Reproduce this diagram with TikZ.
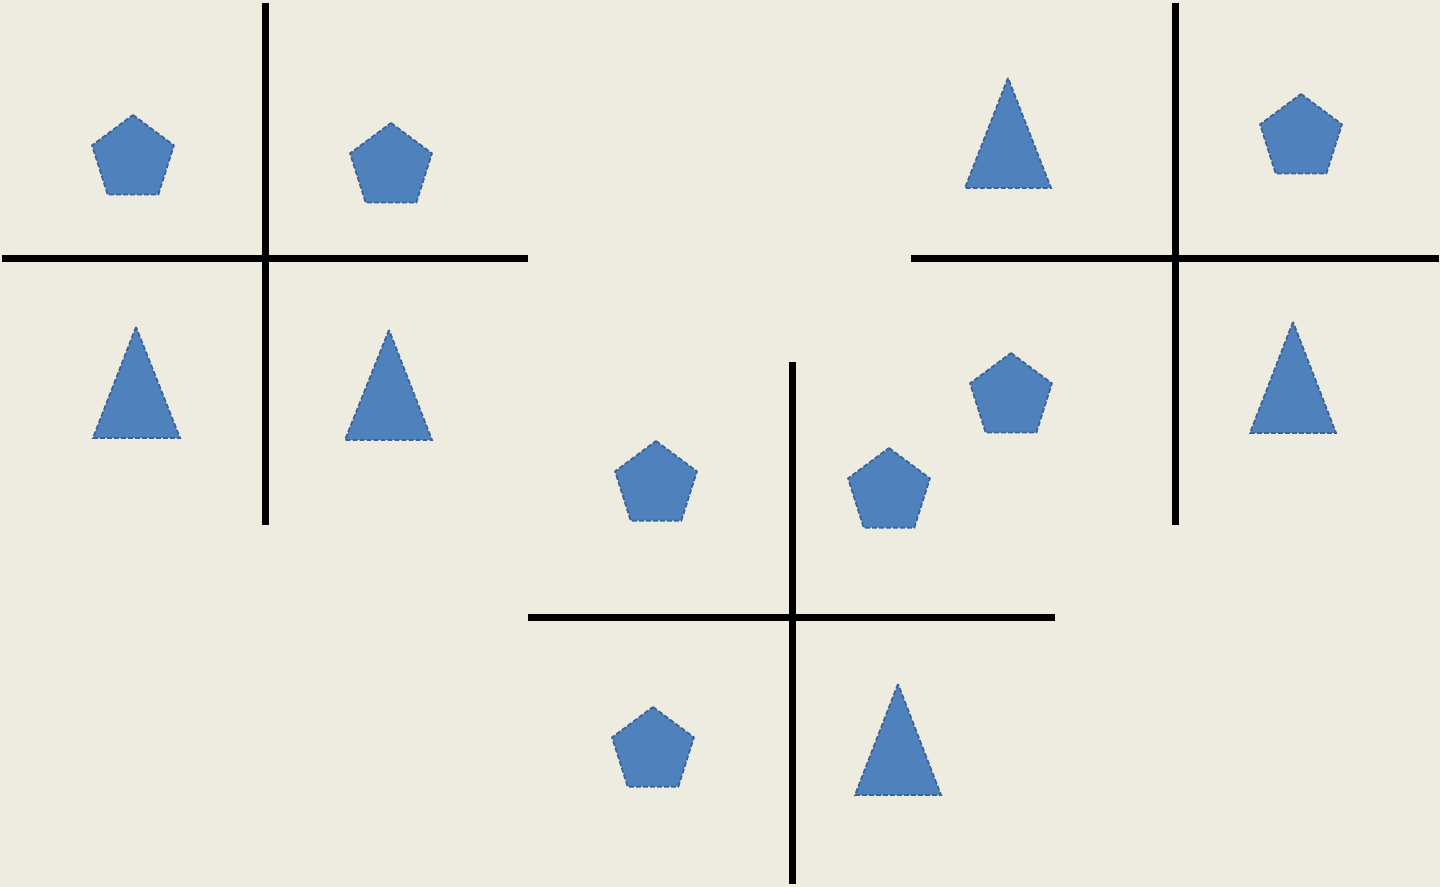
\documentclass[tikz,border=0pt]{standalone}
\definecolor{bg}{HTML}{EEEBE0}
\definecolor{shpfill}{HTML}{4F81BD}
\definecolor{shpline}{HTML}{3A6396}
\newcommand\mypent[2]{%
  \draw[shp] (#1,#2-44) -- (#1+40.9,#2-13.6) -- (#1+25.3,#2+35.6)
    -- (#1-25.3,#2+35.6) -- (#1-40.9,#2-13.6) -- cycle;}
\begin{document}
\begin{tikzpicture}[x=0.5pt,y=-0.5pt,
  shp/.style={fill=shpfill,draw=shpline,line width=0.9pt,dash pattern=on 2.4pt off 1.1pt},
  bar/.style={line width=3.5pt,draw=black}]
\fill[bg] (0,0) rectangle (1440,887);
\useasboundingbox (0,0) rectangle (1440,887);
% group 1
\coordinate (a1) at (265,3); \coordinate (a2) at (265,525);
\coordinate (a3) at (2,259); \coordinate (a4) at (528,259);
\draw[bar] (a1) -- (a2); \draw[bar] (a3) -- (a4);
\mypent{133}{159}
\mypent{391}{167}
\draw[shp] (136,327) -- (93,438) -- (180,438) -- cycle;
\draw[shp] (389,330) -- (345,440) -- (432,440) -- cycle;
% group 2
\coordinate (b1) at (792,362); \coordinate (b2) at (792,884);
\coordinate (b3) at (528,617); \coordinate (b4) at (1055,617);
\draw[bar] (b1) -- (b2); \draw[bar] (b3) -- (b4);
\mypent{656}{485}
\mypent{889}{492}
\mypent{653}{751}
\draw[shp] (898,684) -- (855,795) -- (941,795) -- cycle;
% group 3
\coordinate (c1) at (1175,3); \coordinate (c2) at (1175,525);
\coordinate (c3) at (911,259); \coordinate (c4) at (1439,259);
\draw[bar] (c1) -- (c2); \draw[bar] (c3) -- (c4);
\draw[shp] (1008,78) -- (965,188) -- (1051,188) -- cycle;
\mypent{1301}{138}
\mypent{1011}{397}
\draw[shp] (1293,322) -- (1250,433) -- (1336,433) -- cycle;
\end{tikzpicture}
\end{document}
